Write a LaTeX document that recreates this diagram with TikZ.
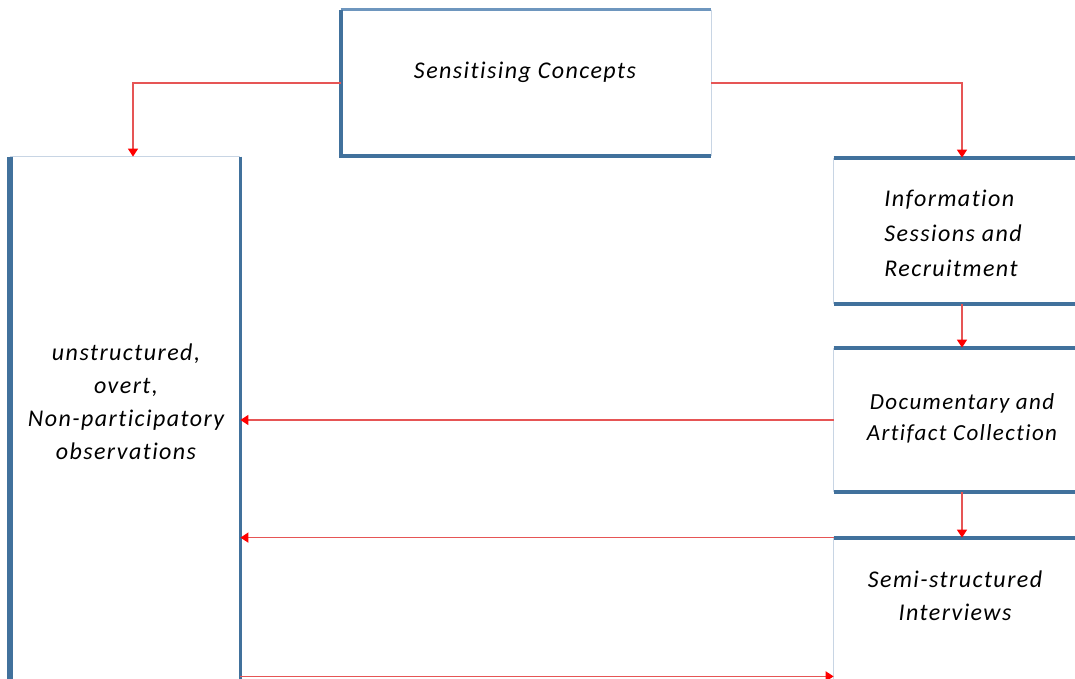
\documentclass[tikz,border=0pt]{standalone}
\usepackage{fontspec}
\setmainfont{Carlito}
\newfontfamily\boxfont[LetterSpace=6,Ligatures=NoCommon]{Carlito}
\usetikzlibrary{arrows.meta}
\definecolor{edgeblue}{RGB}{65,113,156}
\definecolor{midblue}{RGB}{110,150,190}
\definecolor{paleblue}{RGB}{200,213,228}
\definecolor{linkred}{RGB}{230,85,85}

\begin{document}
\begin{tikzpicture}[x=0.5pt,y=-0.5pt,
	box/.style={rectangle, inner sep=0pt, fill=white},
	txt/.style={font={\boxfont\fontsize{12}{16.5}\selectfont\itshape}, align=center, inner sep=0pt},
	heavy/.style={draw=edgeblue, line width=2pt},
	light/.style={draw=paleblue, line width=0.8pt},
	link/.style={draw=linkred, line width=0.8pt, -{Triangle[length=4pt,width=5pt,color=red,fill=red]}}]
			\clip (0,0) rectangle (1075,679);
			\fill[white] (0,0) rectangle (1075,679);
			%%%%%%%%%%%%%%%%%%%%%%%%%%%%%%%%
			\node[box, minimum width=185pt, minimum height=73pt] (sens) at (526,83) {};
			\node[box, minimum width=115pt, minimum height=262pt] (obs) at (125,419) {};
			\node[box, minimum width=128pt, minimum height=73pt] (info) at (962,231) {};
			\node[box, minimum width=128pt, minimum height=72pt] (doc) at (962,420) {};
			\node[box, minimum width=128pt, minimum height=81pt] (semi) at (962,619) {};
			%%%%%%%%%%%%%%%%%%%%%%%%%%%%%%%%
			\draw[light] (sens.north east)--(sens.south east);
			\draw[draw=midblue, line width=1.2pt] (sens.north west)--(sens.north east);
			\draw[heavy] (sens.north west)--(sens.south west)--(sens.south east);
			\draw[light] (obs.north west)--(obs.north east);
			\draw[light] (obs.south west)--(obs.south east);
			\draw[draw=edgeblue, line width=3pt] (obs.north west)--(obs.south west);
			\draw[draw=edgeblue, line width=1.5pt] (obs.north east)--(obs.south east);
			\foreach \b in {info,doc,semi}{
				\draw[light] (\b.north west)--(\b.south west);
				\draw[heavy] (\b.north west)--(\b.north east);
				\draw[heavy] (\b.south west)--(\b.south east);
			}
			%%%%%%%%%%%%%%%%%%%%%%%%%%%%%%%%
			\draw[link] (sens.west) -| ([xshift=4pt]obs.north);
			\draw[link] (sens.east) -| (info.north);
			\draw[link] (info.south)--(doc.north);
			\draw[link] (doc.south)--(semi.north);
			\draw[link] (doc.west)--(doc.west -| obs.east);
			\draw[link] (semi.north west)--(semi.north west -| obs.east);
			\draw[link] ([yshift=2.5pt]obs.south east)--([yshift=2.5pt]obs.south east -| semi.west);
			%%%%%%%%%%%%%%%%%%%%%%%%%%%%%%%%
			\node[txt] (senstxt) at (525,72) {Sensitising Concepts};
			\node[txt] (obstxt) at (126,402) {unstructured,\\overt,\\Non-participatory\\observations};
			\node[txt, align=left, anchor=west, font={\boxfont\fontsize{12}{17.5}\selectfont\itshape}] (infotxt) at (884,233) {Information\\Sessions and\\Recruitment};
			\node[txt, font={\boxfont\fontsize{11.5}{15.5}\selectfont\itshape}] (doctxt) at (962,418) {Documentary and\\Artifact Collection};
			\node[txt] (semitxt) at (955,596) {Semi-structured\\Interviews};
\end{tikzpicture}
\end{document}
